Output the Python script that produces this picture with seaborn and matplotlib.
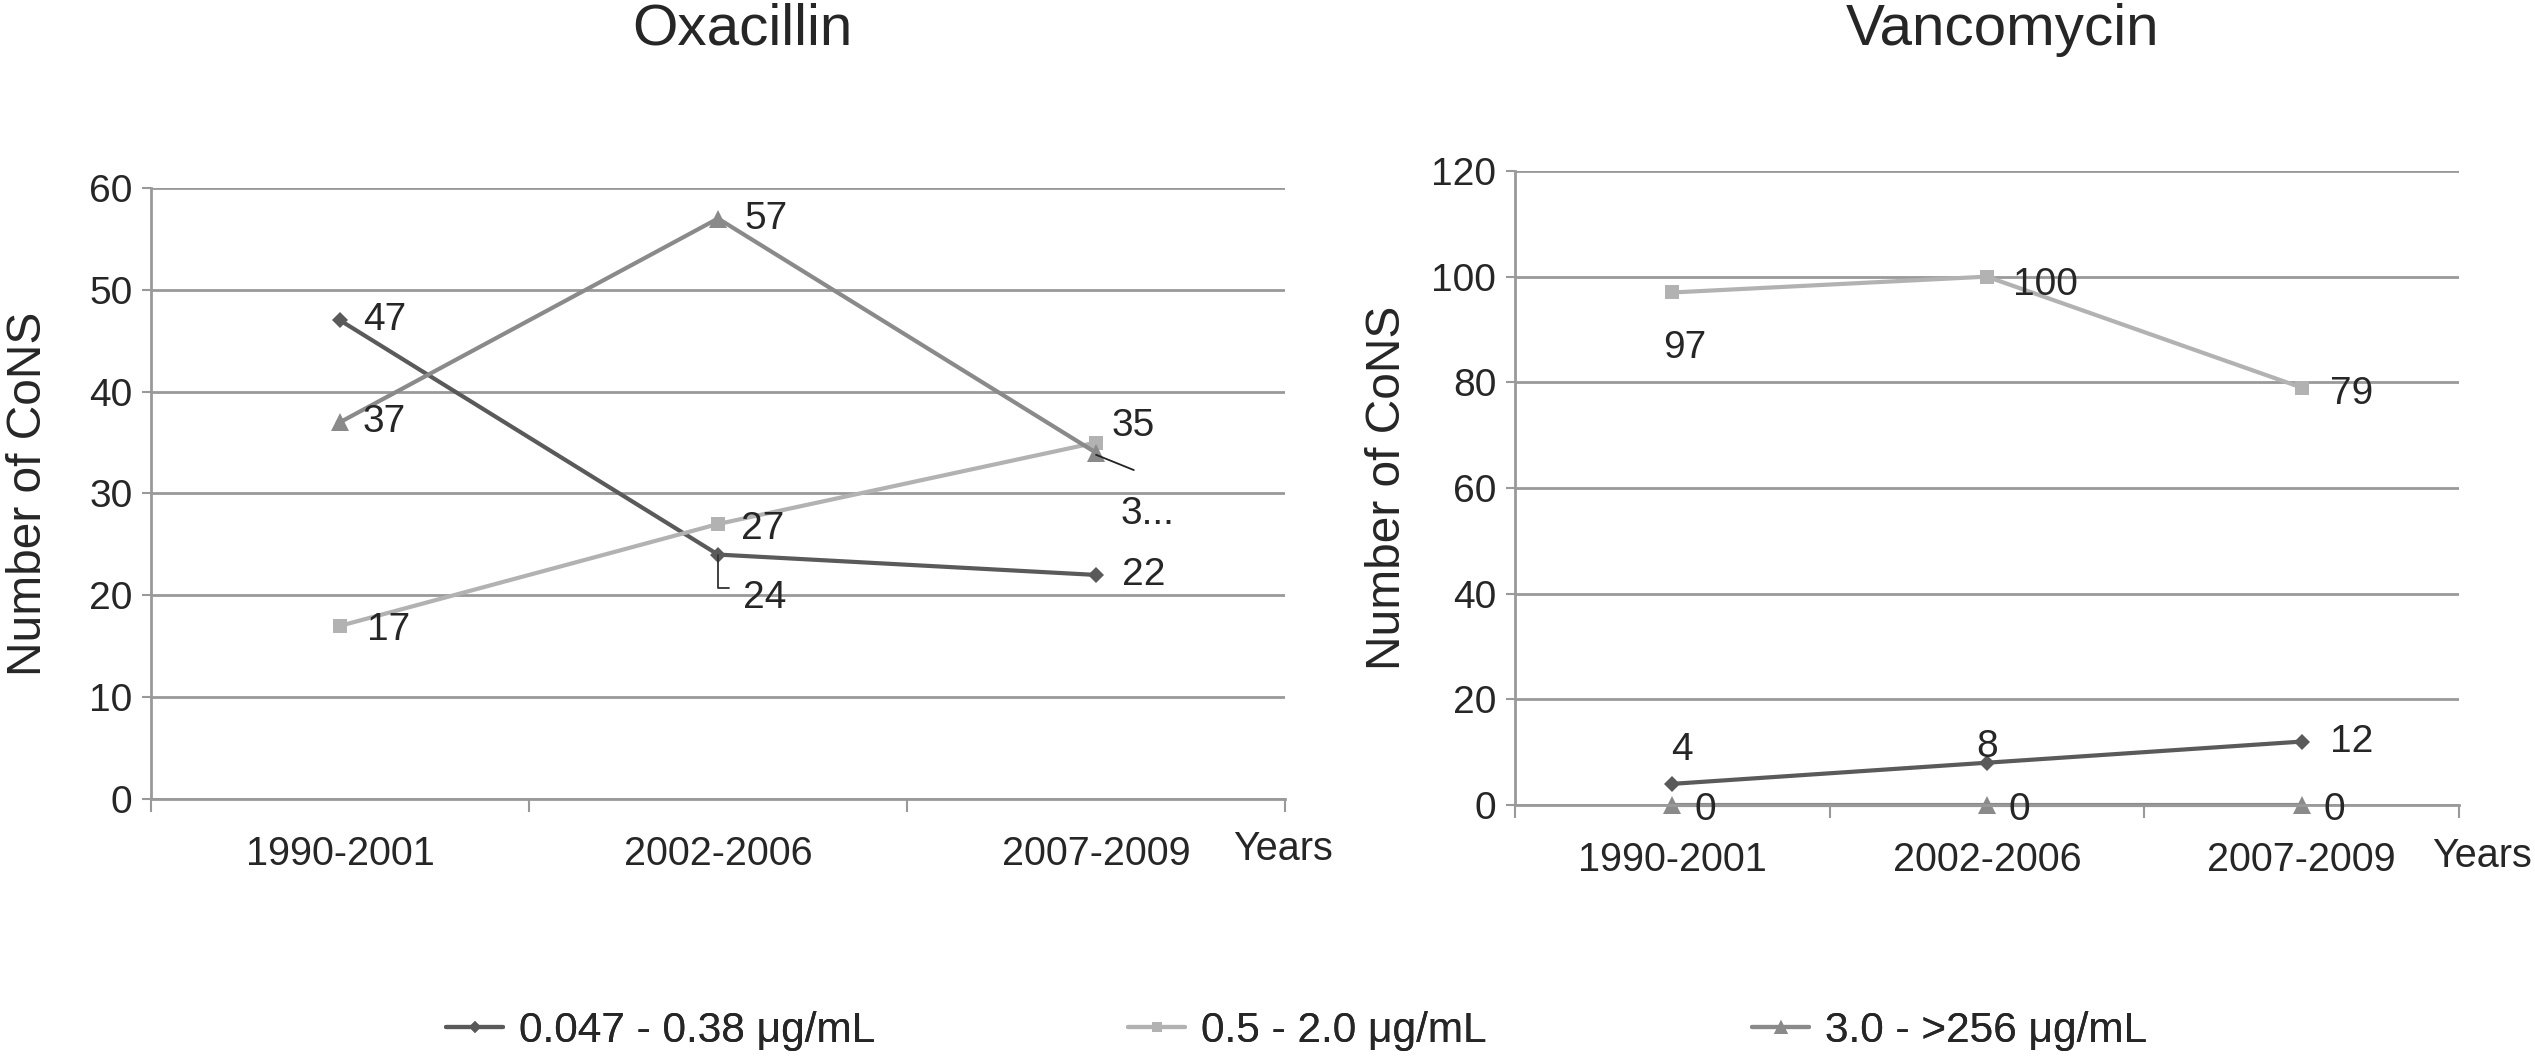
import numpy as np
import pandas as pd
import matplotlib
matplotlib.use("Agg")
import matplotlib.pyplot as plt
import seaborn as sns

periods = ["1990-2001", "2002-2006", "2007-2009"]
series_names = ["0.047 - 0.38 \u03bcg/mL", "0.5 - 2.0 \u03bcg/mL", "3.0 - >256 \u03bcg/mL"]

oxa_low = [47, 24, 22]
oxa_mid = [17, 27, 35]
oxa_high = [37, 57, 34]

van_low = [4, 8, 12]
van_mid = [97, 100, 79]
van_high = [0, 0, 0]

colors = ["#5a5a5a", "#b2b2b2", "#8a8a8a"]
markers = ["D", "s", "^"]
msizes = [8, 10, 13]
grid_c = "#999999"

sns.set_theme(style="white")
plt.rcParams["font.family"] = ["Liberation Sans", "DejaVu Sans"]


def make_df(vals):
    rows = []
    for name, v in zip(series_names, vals):
        for i, val in enumerate(v):
            rows.append({"x": i, "y": val, "series": name})
    return pd.DataFrame(rows)


def draw(ax, df, ymax, step, years_x, ylab_x):
    for name, c, m, ms in zip(series_names, colors, markers, msizes):
        sub = df[df.series == name]
        sns.lineplot(data=sub, x="x", y="y", ax=ax, color=c, marker=m,
                     markersize=ms, markeredgewidth=0, linewidth=3, legend=False,
                     clip_on=False)
    ax.set_xlim(-0.5, 2.5)
    ax.set_ylim(0, ymax)
    ax.set_yticks(np.arange(0, ymax + 1, step))
    ax.yaxis.grid(True, color=grid_c, linewidth=2)
    ax.set_axisbelow(True)
    ax.set_xticks([0, 1, 2])
    ax.set_xticklabels(periods, fontsize=28.5)
    ax.set_xticks([-0.5, 0.5, 1.5, 2.5], minor=True)
    ax.tick_params(axis="x", which="major", length=0, pad=26)
    ax.tick_params(axis="x", which="minor", length=9, width=1.5, color=grid_c, direction="out", bottom=True)
    ax.tick_params(axis="y", length=6.5, width=1.5, color=grid_c, direction="out", left=True, labelsize=28, pad=7)
    for s in ["top", "right"]:
        ax.spines[s].set_visible(False)
    for s in ["left", "bottom"]:
        ax.spines[s].set_color(grid_c)
        ax.spines[s].set_linewidth(2)
    ax.set_xlabel("")
    ax.set_ylabel("Number of CoNS", fontsize=34.5)
    ax.yaxis.set_label_coords(ylab_x, 0.5)
    ax.text(years_x, -0.05, "Years", transform=ax.transAxes, fontsize=28.5, ha="left", va="top")


fig = plt.figure(figsize=(25.35, 10.56), dpi=100)
ax1 = fig.add_axes([0.0596, 0.2434, 0.4473, 0.5786])
ax2 = fig.add_axes([0.5976, 0.2377, 0.3724, 0.6004])

df1 = make_df([oxa_low, oxa_mid, oxa_high])
df2 = make_df([van_low, van_mid, van_high])
draw(ax1, df1, 60, 10, 0.954, -0.088)
draw(ax2, df2, 120, 20, 0.972, -0.111)

fs = 28
# Oxacillin labels
ax1.text(0.06, oxa_low[0], str(oxa_low[0]), fontsize=fs, va="center")
ax1.text(0.06, oxa_high[0], str(oxa_high[0]), fontsize=fs, va="center")
ax1.text(0.07, oxa_mid[0] - 0.4, str(oxa_mid[0]), fontsize=fs, va="center")
ax1.text(1.07, oxa_high[1], str(oxa_high[1]), fontsize=fs, va="center")
ax1.text(1.06, oxa_mid[1] - 0.5, str(oxa_mid[1]), fontsize=fs, va="center")
ax1.plot([1.0, 1.0, 1.03], [24, 20.7, 20.7], color="#333333", linewidth=1.3)
ax1.text(1.066, 19.7, str(oxa_low[1]), fontsize=fs, va="center")
ax1.text(2.07, oxa_low[2], str(oxa_low[2]), fontsize=fs, va="center")
ax1.text(2.04, oxa_mid[2] + 1.6, str(oxa_mid[2]), fontsize=fs, va="center")
ax1.plot([2.0, 2.1], [33.8, 32.3], color="#222222", linewidth=1.3)
ax1.text(2.066, 28.0, "3...", fontsize=fs, va="center")

# Vancomycin labels
ax2.text(0.04, 86.4, str(van_mid[0]), fontsize=fs, va="center", ha="center")
ax2.text(1.083, 98.5, str(van_mid[1]), fontsize=fs, va="center")
ax2.text(2.089, 77.7, str(van_mid[2]), fontsize=fs, va="center")
ax2.text(0.03, 10.4, str(van_low[0]), fontsize=fs, va="center", ha="center")
ax2.text(1.0, 11.0, str(van_low[1]), fontsize=fs, va="center", ha="center")
ax2.text(2.09, van_low[2], str(van_low[2]), fontsize=fs, va="center")
for i in range(3):
    ax2.text(i + 0.07, van_high[i] - 0.9, str(van_high[i]), fontsize=fs, va="center")

fig.text(742 / 2535, 0.972, "Oxacillin", fontsize=42, ha="center", va="center")
fig.text(2002 / 2535, 0.972, "Vancomycin", fontsize=42, ha="center", va="center")

legend_x = [446, 1128, 1752]
for name, c, m, ms, lx in zip(series_names, colors, markers, msizes, legend_x):
    h = plt.Line2D([], [], color=c, marker=m, markersize=ms * 0.75, markeredgewidth=0, linewidth=3)
    leg = fig.legend([h], [name], loc="center left", bbox_to_anchor=(lx / 2535, 0.024),
                     frameon=False, fontsize=30.5, handlelength=1.35, handletextpad=0.38,
                     borderpad=0, borderaxespad=0)
    fig.add_artist(leg)

fig.savefig("out.png", dpi=100)
